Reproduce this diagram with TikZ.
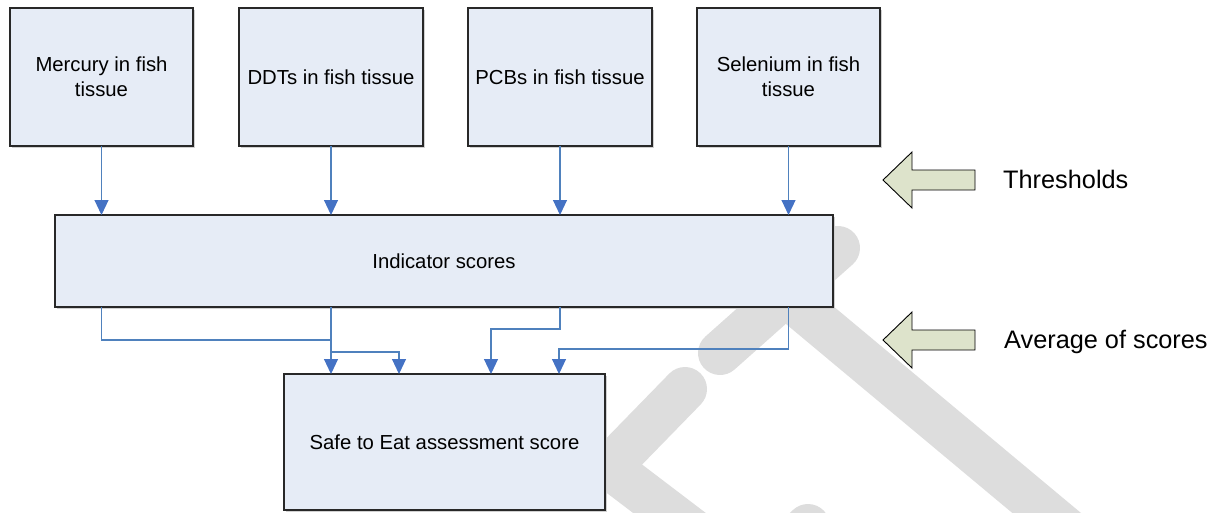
\documentclass[tikz,border=0pt]{standalone}
\usepackage{fontspec}
\setmainfont{Liberation Sans}
\usetikzlibrary{arrows.meta,shadows}

\definecolor{boxfill}{RGB}{230,236,246}
\definecolor{boxline}{RGB}{40,40,40}
\definecolor{linkblue}{RGB}{79,129,189}
\definecolor{tipblue}{RGB}{68,114,196}
\definecolor{hintfill}{RGB}{221,227,203}
\definecolor{bandgrey}{RGB}{221,221,221}

\begin{document}
\begin{tikzpicture}[x=1pt,y=-1pt,
  box/.style={draw=boxline, line width=1.1pt, fill=boxfill, inner sep=0pt,
    outer sep=0pt, align=center, font=\fontsize{20.3}{25}\selectfont,
    drop shadow={shadow xshift=1.5pt, shadow yshift=-1.5pt, fill=black!18, opacity=1}},
  link/.style={draw=linkblue, line width=1.1pt},
  conn/.style={link, -{Triangle[width=14pt,length=15pt,color=tipblue]}},
  hint/.style={draw=black, line width=0.9pt, fill=hintfill, line join=miter},
  hintlabel/.style={anchor=base west, inner sep=0pt, font=\fontsize{25.3}{30}\selectfont},
  wmband/.style={draw=bandgrey, line width=44pt, line cap=round, line join=round}
]
\useasboundingbox (0,0) rectangle (1217,512);

% light grey background bands
\begin{scope}
  \clip (0,0) rectangle (1217,512);
  \draw[wmband] (838,248) -- (720,353);
  \draw[wmband] (770,282) -- (1085,545);
  \draw[wmband] (685,389) -- (609,467) -- (705,540);
  \draw[wmband] (808,526) -- (760,572);
\end{scope}

% source measurements
\node[box, minimum width=183pt, minimum height=138pt] (hg)  at (101.5,77) {Mercury in fish\\tissue};
\node[box, minimum width=184pt, minimum height=138pt] (ddt) at (331,77)   {DDTs in fish tissue};
\node[box, minimum width=184pt, minimum height=138pt] (pcb) at (560,77)   {PCBs in fish tissue};
\node[box, minimum width=183pt, minimum height=138pt] (se)  at (788.5,77) {Selenium in fish\\tissue};

% scoring stages
\node[box, minimum width=778pt, minimum height=92pt]  (ind)  at (444,261)   {Indicator scores};
\node[box, minimum width=321pt, minimum height=136pt] (safe) at (444.5,442) {Safe to Eat assessment score};

% measurements to indicator scores
\draw[conn] (hg.south)  -- (ind.north -| hg.south);
\draw[conn] (ddt.south) -- (ind.north -| ddt.south);
\draw[conn] (pcb.south) -- (ind.north -| pcb.south);
\draw[conn] (se.south)  -- (ind.north -| se.south);

% indicator scores to the assessment score
\coordinate (j1)  at (331,340);
\coordinate (j2)  at (331,352);
\coordinate (in2) at (399,374);
\coordinate (in3) at (491,374);
\coordinate (in4) at (559,374);
\draw[link] (ind.south -| hg.south) |- (j1);
\draw[conn] (ind.south -| ddt.south) -- (safe.north -| ddt.south);
\draw[conn] (j2) -| (in2);
\draw[conn] (ind.south -| pcb.south) -- ++(0,22) -| (in3);
\draw[conn] (ind.south -| se.south) -- ++(0,42) -| (in4);

% side notes
\draw[hint] (975,170) -- (912,170) -- (912,152) -- (883,180) -- (912,208) -- (912,190) -- (975,190) -- cycle;
\draw[hint] (975,330) -- (912,330) -- (912,312) -- (883,340) -- (912,368) -- (912,350) -- (975,350) -- cycle;
\node[hintlabel] (thr) at (1003,188) {Thresholds};
\node[hintlabel] (avg) at (1004,348) {Average of scores};
\end{tikzpicture}
\end{document}
